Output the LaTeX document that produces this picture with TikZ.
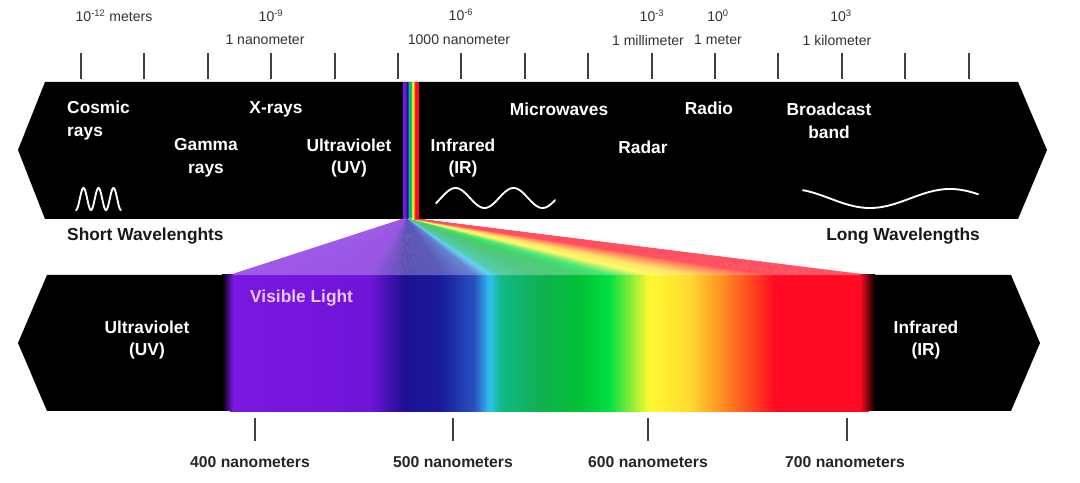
\documentclass[tikz,border=0pt]{standalone}
\usepackage{fontspec}
\setmainfont{Liberation Sans}
\definecolor{cvio}{HTML}{7A18E0}
\definecolor{cviob}{HTML}{7014D8}
\definecolor{cind}{HTML}{1E0F94}
\definecolor{cdblue}{HTML}{181C9C}
\definecolor{cblue}{HTML}{2A50C0}
\definecolor{ccyan}{HTML}{30C0F0}
\definecolor{cteal}{HTML}{10B888}
\definecolor{cgreen}{HTML}{10B050}
\definecolor{cgreenb}{HTML}{00C035}
\definecolor{clime}{HTML}{00E040}
\definecolor{cyellow}{HTML}{FFF830}
\definecolor{cgold}{HTML}{FFDC30}
\definecolor{corange}{HTML}{FF9422}
\definecolor{credor}{HTML}{FF4020}
\definecolor{cred}{HTML}{FF0A22}
\definecolor{clavender}{HTML}{E6C8FF}
\tikzset{
  bandlabel/.style={text=white, font=\fontsize{14.8}{19.5}\selectfont\bfseries, align=center, inner sep=0pt},
  scalelabel/.style={text=black!80, font=\fontsize{12}{14}\selectfont, inner sep=0pt},
  nmlabel/.style={text=black!85, font=\fontsize{13.4}{16}\selectfont\bfseries, inner sep=0pt},
  sidelabel/.style={text=black!90, font=\fontsize{14.8}{18}\selectfont\bfseries, inner sep=0pt},
  tickmark/.style={draw=black!75, line width=1.6pt},
  wave/.style={draw=white, line width=1.6pt, line cap=round},
}
\begin{document}
\begin{tikzpicture}[x=0.03cm, y=-0.03cm]
  \useasboundingbox (0,0) rectangle (1080,483);
  \fill[white] (0,0) rectangle (1080,483);

  \foreach \i in {0,...,14}
    \draw[tickmark] ({81+63.4*\i},53) -- ({81+63.4*\i},79);
  \node[scalelabel] (pm) at (114,16) {10\textsuperscript{-12} meters};
  \node[scalelabel] (enine) at (271,16) {10\textsuperscript{-9}};
  \node[scalelabel] (nm) at (265,40) {1 nanometer};
  \node[scalelabel] (esix) at (461,15) {10\textsuperscript{-6}};
  \node[scalelabel] (um) at (459,40) {1000 nanometer};
  \node[scalelabel] (ethree) at (652,16) {10\textsuperscript{-3}};
  \node[scalelabel] (mm) at (648,40) {1 millimeter};
  \node[scalelabel] (ezero) at (718,16) {10\textsuperscript{0}};
  \node[scalelabel] (m) at (718,40) {1 meter};
  \node[scalelabel] (ekm) at (841,16) {10\textsuperscript{3}};
  \node[scalelabel] (km) at (837,40) {1 kilometer};

  \fill[black] (45,82) -- (1018,82) -- (1047,150) -- (1018,219) -- (45,219) -- (18,150) -- cycle;
  \fill[black] (47,275) -- (1011,275) -- (1040,343) -- (1011,411) -- (47,411) -- (18,343) -- cycle;

  \foreach \xa/\ca/\xb/\cb in {230/cvio/370/cviob, 370/cviob/405/cind, 405/cind/443/cdblue,
      443/cdblue/475/cblue, 475/cblue/490/ccyan, 490/ccyan/502/cteal, 502/cteal/540/cgreen,
      540/cgreen/580/cgreenb, 580/cgreenb/610/clime, 610/clime/650/cyellow, 650/cyellow/690/cgold,
      690/cgold/720/corange, 720/corange/755/credor, 755/credor/775/cred, 775/cred/868/cred} {
    \foreach \k in {0,...,11} {
      \pgfmathsetmacro\xl{\xa+(\xb-\xa)*\k/12}
      \pgfmathsetmacro\xr{\xa+(\xb-\xa)*(\k+1)/12}
      \pgfmathsetmacro\sl{403+(\xl-230)*15/638}
      \pgfmathsetmacro\sr{403+(\xr-230)*15/638}
      \pgfmathtruncatemacro\mix{100-100*(\k+0.5)/12}
      \colorlet{slice}{\ca!\mix!\cb}
      \filldraw[fill=slice, draw=slice, line width=0.3pt] (\xl,275) rectangle (\xr,411);
      \filldraw[fill=slice, draw=slice, line width=0.2pt] (\sl,82) rectangle (\sr,219);
      \filldraw[fill=slice!72!white, draw=slice!72!white, line width=0.3pt]
        (\sl,219) -- (\xl,275) -- (\xr,275) -- (\sr,219) -- cycle;
    }
  }
  \shade[left color=black, right color=cvio] (222,275) rectangle (233,411);
  \shade[left color=cred, right color=black] (860,275) rectangle (875,411);

  \node[bandlabel, anchor=west, align=left] (cosmic) at (67,120.5) {Cosmic\\rays};
  \node[bandlabel] (xray) at (276,109) {X-rays};
  \node[bandlabel] (gamma) at (206,158) {Gamma\\rays};
  \node[bandlabel] (uvtop) at (349,158) {Ultraviolet\\(UV)};
  \node[bandlabel] (irtop) at (463,158) {Infrared\\(IR)};
  \node[bandlabel] (micro) at (559,109) {Microwaves};
  \node[bandlabel] (radio) at (709,108) {Radio};
  \node[bandlabel] (radar) at (643,147) {Radar};
  \node[bandlabel] (broad) at (829,120.5) {Broadcast\\band};

  \draw[wave] plot[domain=76:121, samples=90, smooth] (\x,{199+11*cos(((\x-76)/15)*360)});
  \draw[wave] plot[domain=436:555, samples=80, smooth] (\x,{198-10*sin(((\x-441)/58)*360)});
  \draw[wave] plot[domain=803:978, samples=80, smooth] (\x,{198.5+9.5*sin(((\x-830)/160)*360)});

  \node[sidelabel, anchor=west] (short) at (67,236) {Short Wavelenghts};
  \node[sidelabel, anchor=east] (long) at (980,236) {Long Wavelengths};

  \node[bandlabel, text=clavender, anchor=west] (visible) at (250,298) {Visible Light};
  \node[bandlabel] (uvbot) at (147,340) {Ultraviolet\\(UV)};
  \node[bandlabel] (irbot) at (926,340) {Infrared\\(IR)};

  \foreach \x in {255,453,648,847}
    \draw[tickmark] (\x,418) -- (\x,441);
  \node[nmlabel] (nmfour) at (250,462) {400 nanometers};
  \node[nmlabel] (nmfive) at (453,462) {500 nanometers};
  \node[nmlabel] (nmsix) at (648,462) {600 nanometers};
  \node[nmlabel] (nmseven) at (845,462) {700 nanometers};
\end{tikzpicture}
\end{document}
